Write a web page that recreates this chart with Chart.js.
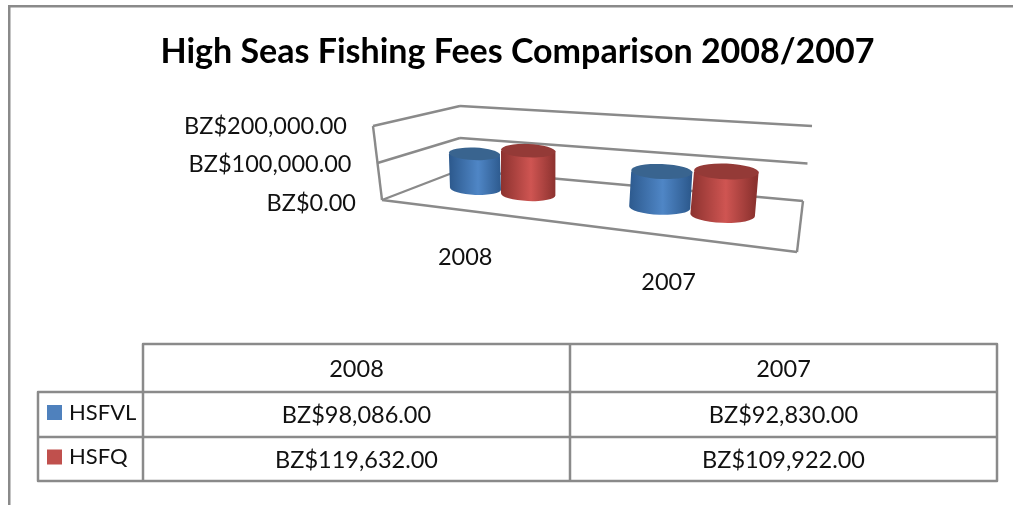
<!DOCTYPE html>
<html>
<head>
<meta charset="utf-8">
<title>High Seas Fishing Fees Comparison 2008/2007</title>
<script src="https://cdn.jsdelivr.net/npm/chart.js@4"></script>
<style>
  html, body { margin: 0; padding: 0; background: #fff; overflow: hidden; }
  canvas { display: block; }
</style>
</head>
<body>
<canvas id="chart" width="1013" height="505"></canvas>
<script>
const titleText = "High Seas Fishing Fees Comparison 2008/2007";
const categories = ["2008", "2007"];
const seriesNames = ["HSFVL", "HSFQ"];
const hsfvlValues = [98086, 92830];
const hsfqValues = [119632, 109922];
const axisMax = 200000;
const axisStep = 100000;

const FONT = "Lato, 'Open Sans', sans-serif";
const LINE = "#8a8a8a";
const INK = "#111";

// --- Perspective: floor quad of the 3D box, from the flat chart area to the page ---

const FLOOR = { fl: [382, 200], fr: [797, 252], br: [803, 201], bl: [460, 170] };
// how far a full-height column moves from each floor corner
const LIFT = { fl: [-9, -74], fr: [9, -87], br: [9, -75], bl: [0, -64] };

function makeFloorMap({ fl, fr, br, bl }) {
  const dx1 = fr[0] - br[0], dx2 = bl[0] - br[0], dx3 = fl[0] - fr[0] + br[0] - bl[0];
  const dy1 = fr[1] - br[1], dy2 = bl[1] - br[1], dy3 = fl[1] - fr[1] + br[1] - bl[1];
  const det = dx1 * dy2 - dx2 * dy1;
  const g = (dx3 * dy2 - dx2 * dy3) / det;
  const h = (dx1 * dy3 - dx3 * dy1) / det;
  const a = fr[0] - fl[0] + g * fr[0], b = bl[0] - fl[0] + h * bl[0];
  const d = fr[1] - fl[1] + g * fr[1], e = bl[1] - fl[1] + h * bl[1];
  return (u, w) => {
    const q = g * u + h * w + 1;
    return [(a * u + b * w + fl[0]) / q, (d * u + e * w + fl[1]) / q];
  };
}

const floorAt = makeFloorMap(FLOOR);

// u along the category axis, w into the depth, v up the value axis (all 0..1)
function project(u, w, v) {
  const [x, y] = floorAt(u, w);
  const mix = (i) =>
    (LIFT.fl[i] * (1 - u) + LIFT.fr[i] * u) * (1 - w) +
    (LIFT.bl[i] * (1 - u) + LIFT.br[i] * u) * w;
  return [x + mix(0) * v, y + mix(1) * v];
}

// page pixels per unit of u around a column; closer columns are wider
function localScale(u) {
  return 280 + 120 * u;
}

function fmtMoney(value) {
  return "BZ$" + value.toLocaleString("en-US", { minimumFractionDigits: 2, maximumFractionDigits: 2 });
}

function segment(ctx, p, q) {
  ctx.beginPath();
  ctx.moveTo(p[0], p[1]);
  ctx.lineTo(q[0], q[1]);
  ctx.stroke();
}

// --- Walls and floor ---

function drawBox(chart) {
  const { ctx } = chart;
  const yScale = chart.scales.y;
  const xScale = chart.scales.x;
  const area = chart.chartArea;

  ctx.save();
  ctx.strokeStyle = LINE;
  ctx.lineWidth = 2.4;
  ctx.lineJoin = "round";

  for (const tick of yScale.ticks) {
    const v = (area.bottom - yScale.getPixelForValue(tick.value)) / area.height;
    const front = project(0, 0, v), back = project(0, 1, v), right = project(1, 1, v);
    segment(ctx, front, back);
    segment(ctx, back, right);

    ctx.fillStyle = INK;
    ctx.font = `23.5px ${FONT}`;
    ctx.textAlign = "right";
    ctx.textBaseline = "middle";
    ctx.fillText(fmtMoney(tick.value), front[0] - 26, front[1] + 3 - 3 * v);
  }
  segment(ctx, project(0, 0, 0), project(0, 0, 1));
  segment(ctx, project(0, 0, 0), project(1, 0, 0));
  segment(ctx, project(1, 0, 0), project(1, 1, 0));

  categories.forEach((label, i) => {
    const u = (xScale.getPixelForValue(i) - area.left) / area.width;
    const p = project(u, 0, 0);
    ctx.fillStyle = INK;
    ctx.font = `23.5px ${FONT}`;
    ctx.textAlign = "center";
    ctx.textBaseline = "middle";
    ctx.fillText(label, p[0] + 3, p[1] + 47);
  });
  ctx.restore();
}

// --- Cylinders ---

const CYLINDER_COLORS = [
  { edge: "#2d5a8e", mid: "#4f86c6", top: "#39648f" },
  { edge: "#8c322f", mid: "#cf5552", top: "#943a37" },
];

function drawCylinder(ctx, bar, centerPx, area, colors) {
  const u = (bar.x - area.left) / area.width;
  const uc = (centerPx - area.left) / area.width;
  const halfU = bar.width / 2 / area.width;
  const v = (area.bottom - bar.y) / area.height;

  // x comes from the category centre, spread by the local scale
  const dx = 9 * uc + (u - uc) * localScale(uc) - (project(u, 0.5, 0)[0] - project(uc, 0.5, 0)[0]);
  const base = project(u, 0.5, 0);
  const top = project(u, 0.5, v);
  base[0] += dx;
  top[0] += dx;

  const rx = halfU * localScale(u);
  const ry = rx * 0.245;
  const tilt = 0.04;

  const grad = ctx.createLinearGradient(base[0] - rx, 0, base[0] + rx, 0);
  grad.addColorStop(0, colors.edge);
  grad.addColorStop(0.55, colors.mid);
  grad.addColorStop(1, colors.edge);

  ctx.beginPath();
  ctx.moveTo(top[0] - rx, top[1]);
  ctx.lineTo(base[0] - rx, base[1]);
  ctx.ellipse(base[0], base[1], rx, ry, tilt, Math.PI, 0, true);
  ctx.lineTo(top[0] + rx, top[1]);
  ctx.closePath();
  ctx.fillStyle = grad;
  ctx.fill();

  ctx.beginPath();
  ctx.ellipse(top[0], top[1], rx, ry, tilt, 0, Math.PI * 2);
  ctx.fillStyle = colors.top;
  ctx.fill();
}

// --- Data table under the plot ---

const TABLE = { left: 38, rowHead: 143, mid: 570, right: 997, top: 344, head: 392, row: 437, bottom: 481 };
const KEY_COLORS = ["#4f81bd", "#c0504d"];

function drawTable(chart) {
  const { ctx } = chart;
  const t = TABLE;
  const seriesValues = chart.data.datasets.map((ds) => ds.data);

  ctx.save();
  ctx.strokeStyle = LINE;
  ctx.lineWidth = 2.5;
  ctx.lineJoin = "round";
  ctx.beginPath();
  ctx.rect(t.rowHead, t.top, t.right - t.rowHead, t.bottom - t.top);
  ctx.rect(t.left, t.head, t.rowHead - t.left, t.bottom - t.head);
  ctx.moveTo(t.mid, t.top); ctx.lineTo(t.mid, t.bottom);
  ctx.moveTo(t.rowHead, t.head); ctx.lineTo(t.right, t.head);
  ctx.moveTo(t.left, t.row); ctx.lineTo(t.right, t.row);
  ctx.stroke();

  ctx.fillStyle = INK;
  ctx.font = `23.5px ${FONT}`;
  ctx.textBaseline = "middle";
  ctx.textAlign = "center";
  const colCenters = [(t.rowHead + t.mid) / 2, (t.mid + t.right) / 2];
  const rowCenters = [(t.head + t.row) / 2, (t.row + t.bottom) / 2];
  categories.forEach((label, i) => ctx.fillText(label, colCenters[i], (t.top + t.head) / 2 + 1));

  seriesNames.forEach((name, r) => {
    const cy = rowCenters[r];
    ctx.fillStyle = KEY_COLORS[r];
    ctx.fillRect(47, cy - 7.5 - 2, 15, 15);
    ctx.fillStyle = INK;
    ctx.textAlign = "center";
    seriesValues[r].forEach((value, c) => ctx.fillText(fmtMoney(value), colCenters[c], cy + 1));
    ctx.textAlign = "left";
    ctx.font = `22px ${FONT}`;
    ctx.fillText(name, 69, cy - 2);
    ctx.font = `23.5px ${FONT}`;
  });
  ctx.restore();
}

// --- Plugin: draws the flat bars of the chart in the 3D box ---

const box3d = {
  id: "box3d",
  beforeDraw(chart) {
    const { ctx } = chart;
    ctx.save();
    ctx.fillStyle = LINE;
    ctx.fillRect(8, 5, 1005, 2.5);
    ctx.fillRect(8, 5, 2.5, 500);
    ctx.restore();
  },
  beforeDatasetsDraw(chart) {
    drawBox(chart);
    categories.forEach((_, c) => {
      const centerPx = chart.scales.x.getPixelForValue(c);
      chart.data.datasets.forEach((_ds, s) => {
        drawCylinder(chart.ctx, chart.getDatasetMeta(s).data[c], centerPx, chart.chartArea, CYLINDER_COLORS[s]);
      });
    });
    drawTable(chart);
    return false; // the flat bars are not drawn
  },
};

new Chart(document.getElementById("chart"), {
  type: "bar",
  data: {
    labels: categories,
    datasets: [
      { label: seriesNames[0], data: hsfvlValues, backgroundColor: KEY_COLORS[0] },
      { label: seriesNames[1], data: hsfqValues, backgroundColor: KEY_COLORS[1] },
    ],
  },
  options: {
    responsive: false,
    animation: false,
    layout: { padding: { left: 22, top: 32 } },
    datasets: { bar: { categoryPercentage: 0.68, barPercentage: 1 } },
    plugins: {
      legend: { display: false },
      tooltip: { enabled: false },
      title: {
        display: true,
        text: titleText,
        color: "#000",
        font: { family: FONT, size: 34, weight: "bold" },
        padding: 0,
      },
    },
    scales: {
      x: { display: false },
      y: { display: false, min: 0, max: axisMax, ticks: { stepSize: axisStep } },
    },
  },
  plugins: [box3d],
});
</script>
</body>
</html>
